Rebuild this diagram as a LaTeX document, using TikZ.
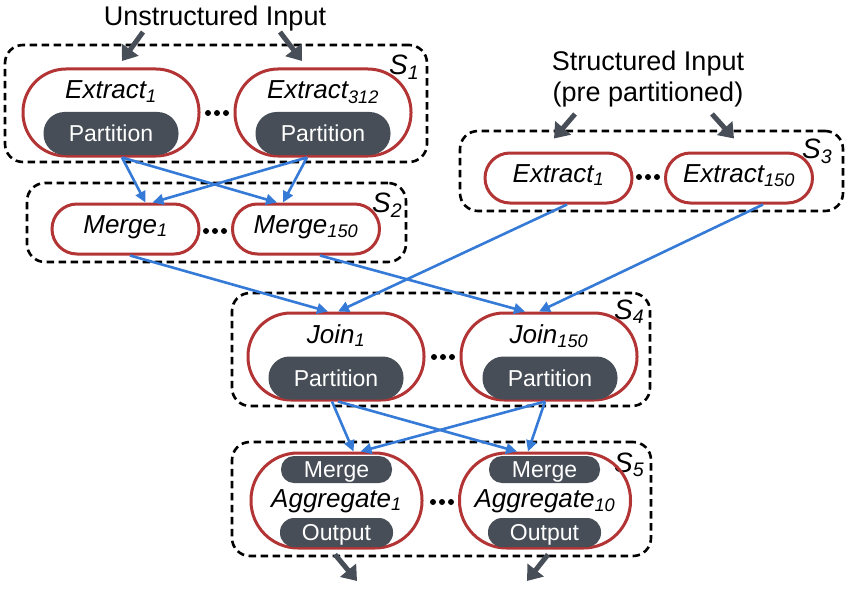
\documentclass[tikz,border=0pt]{standalone}
\usepackage{fontspec}
\setmainfont{Liberation Sans}
\usetikzlibrary{arrows.meta}
\definecolor{redb}{RGB}{178,52,52}
\definecolor{pillc}{RGB}{71,78,87}
\definecolor{flowc}{RGB}{52,122,214}
\begin{document}
\begin{tikzpicture}[x=1pt,y=-1pt,
  stage/.style={draw=black, line width=2.6pt, dash pattern=on 7.5pt off 4.5pt, rounded corners=18pt, inner sep=0pt},
  opbig/.style={draw=redb, line width=3pt, inner sep=0pt, minimum width=176pt, minimum height=87pt, rounded corners=43pt},
  opsmall/.style={draw=redb, line width=3pt, inner sep=0pt, minimum width=147pt, minimum height=50pt, rounded corners=25pt},
  opagg/.style={draw=redb, line width=3pt, inner sep=0pt, minimum width=171pt, minimum height=95pt, rounded corners=47pt},
  pillbig/.style={fill=pillc, text=white, inner sep=0pt, minimum width=135pt, minimum height=43pt, rounded corners=21pt, text height=16.5pt, text depth=0pt, font=\fontsize{23}{26}\selectfont},
  pillsmall/.style={fill=pillc, text=white, inner sep=0pt, minimum height=27pt, rounded corners=13pt, text height=16.5pt, text depth=0pt, font=\fontsize{23}{26}\selectfont},
  lbl/.style={anchor=base, inner sep=0pt, font=\fontsize{26}{30}\selectfont\itshape},
  stlbl/.style={anchor=base west, inner sep=0pt, font=\fontsize{28}{32}\selectfont\itshape},
  inlbl/.style={anchor=base, inner sep=0pt, font=\fontsize{27}{31}\selectfont},
  flow/.style={draw=flowc, line width=2.6pt, -{Triangle[length=11pt,width=10.5pt]}},
  inarrow/.style={draw=pillc, line width=5pt, -{Triangle[length=14pt,width=20pt]}},
  dot/.style={fill=black}
]
\useasboundingbox (0,0) rectangle (853,591);

% stage boxes
\node[stage, minimum width=422pt, minimum height=117pt] (s1) at (216,103.5) {};
\node[stage, minimum width=379pt, minimum height=79pt] (s2) at (216.5,222.5) {};
\node[stage, minimum width=383pt, minimum height=80pt] (s3) at (651.5,171) {};
\node[stage, minimum width=418pt, minimum height=113pt] (s4) at (441,349.5) {};
\node[stage, minimum width=419pt, minimum height=114pt] (s5) at (441.5,499) {};

\node[stlbl] (l1) at (389,75) {S\textsubscript{1}};
\node[stlbl] (l2) at (372,212) {S\textsubscript{2}};
\node[stlbl] (l3) at (802,158) {S\textsubscript{3}};
\node[stlbl] (l4) at (614,319) {S\textsubscript{4}};
\node[stlbl] (l5) at (614,472) {S\textsubscript{5}};

% input labels
\node[inlbl] (ui) at (215,26) {Unstructured Input};
\node[inlbl] (si) at (648,71) {Structured Input};
\node[inlbl] (sp) at (648,102) {(pre partitioned)};

% S1
\node[opbig] (e1) at (111,112.5) {};
\node[opbig] (e2) at (323,112.5) {};
\node[pillbig] (p1) at (111,133.5) {Partition};
\node[pillbig] (p2) at (323,133.5) {Partition};
\node[lbl] (t1) at (111,99) {Extract\textsubscript{1}};
\node[lbl] (t2) at (323,99) {Extract\textsubscript{312}};
\foreach \dx in {-9,0,9} \fill[dot] (217+\dx,113) circle (3pt);

% S2
\node[opsmall] (m1) at (125.5,229) {};
\node[opsmall] (m2) at (306,229) {};
\node[lbl] (tm1) at (125.5,233) {Merge\textsubscript{1}};
\node[lbl] (tm2) at (306,233) {Merge\textsubscript{150}};
\foreach \dx in {-9,0,9} \fill[dot] (215+\dx,231) circle (3pt);

% S3
\node[opsmall] (x1) at (558.5,178) {};
\node[opsmall] (x2) at (739,178) {};
\node[lbl] (tx1) at (558.5,182) {Extract\textsubscript{1}};
\node[lbl] (tx2) at (739,182) {Extract\textsubscript{150}};
\foreach \dx in {-9,0,9} \fill[dot] (648+\dx,177) circle (3pt);

% S4
\node[opbig] (j1) at (336,356.5) {};
\node[opbig] (j2) at (549,356.5) {};
\node[pillbig] (jp1) at (336,378) {Partition};
\node[pillbig] (jp2) at (550,378) {Partition};
\node[lbl] (tj1) at (336,343) {Join\textsubscript{1}};
\node[lbl] (tj2) at (549,343) {Join\textsubscript{150}};
\foreach \dx in {-9,0,9} \fill[dot] (443+\dx,357) circle (3pt);

% S5
\node[opagg] (a1) at (336.5,500.5) {};
\node[opagg] (a2) at (545,500.5) {};
\node[pillsmall, minimum width=111pt] (am1) at (336.5,469.5) {Merge};
\node[pillsmall, minimum width=111pt] (am2) at (544.5,469.5) {Merge};
\node[pillsmall, minimum width=113pt, minimum height=29pt, rounded corners=14pt] (ao1) at (336.5,532.5) {Output};
\node[pillsmall, minimum width=113pt, minimum height=29pt, rounded corners=14pt] (ao2) at (544.5,532.5) {Output};
\node[lbl] (ta1) at (336.5,507) {Aggregate\textsubscript{1}};
\node[lbl] (ta2) at (545,507) {Aggregate\textsubscript{10}};
\foreach \dx in {-9,0,9} \fill[dot] (442+\dx,502) circle (3pt);

% input arrows
\coordinate (u1) at (143,32);
\coordinate (u2) at (280,32);
\coordinate (v1) at (575,114);
\coordinate (v2) at (712,114);
\draw[inarrow] (u1) -- ([xshift=11pt,yshift=6.5pt]e1.north);
\draw[inarrow] (u2) -- ([xshift=-21pt,yshift=6.5pt]e2.north);
\draw[inarrow] (v1) -- ([xshift=-4.5pt,yshift=13pt]x1.north);
\draw[inarrow] (v2) -- ([xshift=-5pt,yshift=13pt]x2.north);

% output arrows
\coordinate (o1) at (357,581);
\coordinate (o2) at (527,581);
\draw[inarrow] ([xshift=-1.5pt,yshift=-5pt]a1.south) -- (o1);
\draw[inarrow] ([xshift=3pt,yshift=-5pt]a2.south) -- (o2);

% flows S1 -> S2
\draw[flow] ([xshift=11pt]e1.south) -- ([xshift=20pt]m1.north);
\draw[flow] ([xshift=11pt]e1.south) -- ([xshift=-29pt]m2.north);
\draw[flow] ([xshift=-16pt]e2.south) -- ([xshift=27pt]m1.north);
\draw[flow] ([xshift=-16pt]e2.south) -- ([xshift=-23pt]m2.north);

% flows S2,S3 -> S4
\draw[flow] ([xshift=4.5pt]m1.south) -- ([xshift=-8pt]j1.north);
\draw[flow] ([xshift=14pt]m2.south) -- ([xshift=-24pt]j2.north);
\draw[flow] ([xshift=8.5pt]x1.south) -- ([xshift=2pt]j1.north);
\draw[flow] ([xshift=24pt]x2.south) -- ([xshift=-10pt]j2.north);

% flows S4 -> S5
\draw[flow] ([xshift=-4pt]j1.south) -- ([xshift=17pt]a1.north);
\draw[flow] ([xshift=2pt]j1.south) -- ([xshift=-28pt]a2.north);
\draw[flow] ([xshift=-4pt]j2.south) -- ([xshift=24pt]a1.north);
\draw[flow] ([xshift=-4pt]j2.south) -- ([xshift=-17pt]a2.north);
\end{tikzpicture}
\end{document}
